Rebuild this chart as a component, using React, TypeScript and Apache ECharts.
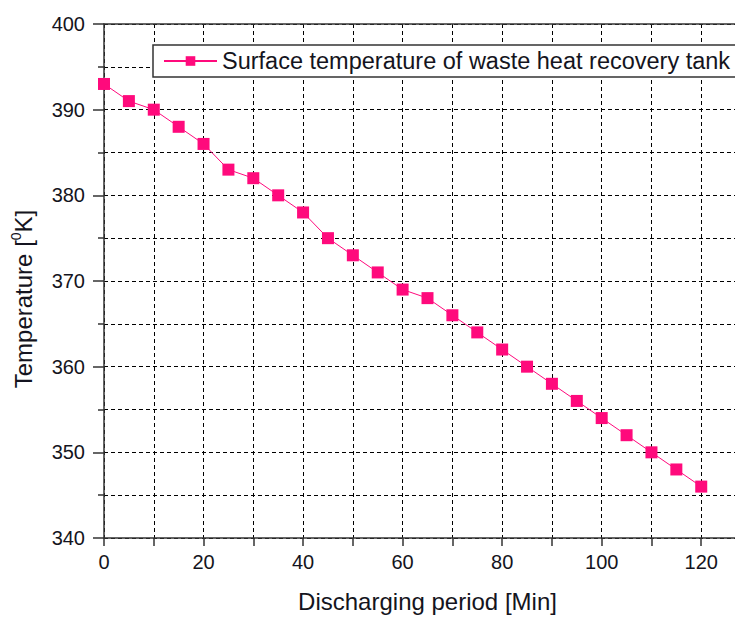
import React, { useEffect, useRef } from "react";
import * as echarts from "echarts";

// Discharging time (min) and measured tank surface temperature (K)
const dischargeMinutes = [0, 5, 10, 15, 20, 25, 30, 35, 40, 45, 50, 55, 60, 65, 70, 75, 80, 85, 90, 95, 100, 105, 110, 115, 120];
const surfaceTemperature = [393, 391, 390, 388, 386, 383, 382, 380, 378, 375, 373, 371, 369, 368, 366, 364, 362, 360, 358, 356, 354, 352, 350, 348, 346];

const seriesName = "Surface temperature of waste heat recovery tank";
const xAxisTitle = "Discharging period [Min]";

const FONT = "'Liberation Sans', Arial, sans-serif";
const TEXT = "#141420";
const AXIS = "#333";
const GRID_DASH = { color: "#000", width: 1, type: [4, 3] as number[] };

export default function App() {
  const ref = useRef<HTMLDivElement>(null);

  useEffect(() => {
    if (!ref.current) return;
    const chart = echarts.init(ref.current, null, { renderer: "svg" });
    chart.setOption({
      animation: false,
      backgroundColor: "#fff",
      textStyle: { fontFamily: FONT },
      grid: { left: 104, right: 0, top: 24, bottom: 76, containLabel: false },
      legend: {
        left: 153,
        top: 45,
        padding: [4, 40, 4, 10],
        itemWidth: 53,
        itemHeight: 12,
        borderColor: AXIS,
        borderWidth: 1.5,
        borderRadius: 0,
        backgroundColor: "#fff",
        textStyle: { fontSize: 23.5, color: TEXT, fontFamily: FONT },
        data: [seriesName],
      },
      xAxis: [
        {
          type: "value",
          min: 0,
          max: 130,
          interval: 10,
          name: xAxisTitle,
          nameLocation: "middle",
          nameGap: 51,
          nameTextStyle: { fontSize: 24, color: TEXT, fontFamily: FONT },
          axisLine: { show: true, onZero: false, lineStyle: { color: AXIS, width: 1.5 } },
          axisTick: { show: true, inside: false, length: 8, lineStyle: { color: AXIS, width: 1.5 } },
          axisLabel: {
            fontSize: 20,
            color: TEXT,
            margin: 14,
            fontFamily: FONT,
            formatter: (v: number) => (v % 20 === 0 ? String(v) : ""),
          },
          splitLine: { show: true, lineStyle: GRID_DASH },
        },
        {
          type: "value",
          position: "top",
          min: 0,
          max: 130,
          axisLine: { show: true, onZero: false, lineStyle: { color: AXIS, width: 1.5 } },
          axisTick: { show: false },
          axisLabel: { show: false },
          splitLine: { show: false },
        },
      ],
      yAxis: {
        type: "value",
        min: 340,
        max: 400,
        interval: 10,
        name: "{b|Temperature [}{s|0}{b|K]}",
        nameLocation: "middle",
        nameGap: 67,
        nameTextStyle: {
          color: TEXT,
          fontFamily: FONT,
          padding: [0, 36, 0, 0],
          rich: {
            b: { fontSize: 24, color: TEXT, fontFamily: FONT, lineHeight: 28 },
            s: { fontSize: 14, color: TEXT, fontFamily: FONT, verticalAlign: "top", lineHeight: 28 },
          },
        },
        axisLine: { show: true, onZero: false, lineStyle: { color: AXIS, width: 1.5 } },
        axisTick: { show: true, length: 11, lineStyle: { color: AXIS, width: 1.5 } },
        minorTick: { show: true, splitNumber: 2, length: 6, lineStyle: { color: AXIS, width: 1.5 } },
        minorSplitLine: { show: true, lineStyle: GRID_DASH },
        axisLabel: { fontSize: 20, color: TEXT, margin: 19, fontFamily: FONT },
        splitLine: { show: true, lineStyle: GRID_DASH },
      },
      series: [
        {
          name: seriesName,
          type: "line",
          xAxisIndex: 0,
          data: dischargeMinutes.map((m, i) => [m, surfaceTemperature[i]]),
          symbol: "rect",
          symbolSize: 12,
          itemStyle: { color: "#ff0a7c" },
          lineStyle: { color: "#ff0a7c", width: 1 },
          z: 5,
        },
      ],
    });
    return () => chart.dispose();
  }, []);

  return (
    <div style={{ position: "fixed", left: 0, top: 0, width: 735, height: 618, overflow: "hidden", background: "#fff" }}>
      <div ref={ref} style={{ width: 754, height: 618 }} />
    </div>
  );
}
